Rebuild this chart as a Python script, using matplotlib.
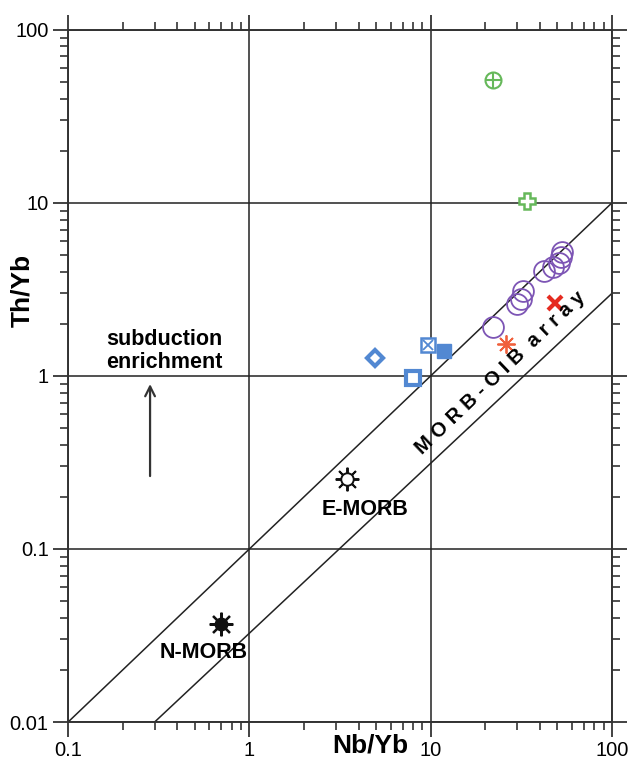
import numpy as np
import matplotlib
matplotlib.use("Agg")
import matplotlib.pyplot as plt
from matplotlib.ticker import LogLocator, NullFormatter, FixedFormatter, FixedLocator

plt.rcParams['font.family'] = ['Liberation Sans', 'DejaVu Sans']

# MORB-OIB array boundaries (Nb/Yb, Th/Yb)
upper_x, upper_y = [0.1, 100], [0.01, 10]
lower_x, lower_y = [0.3, 100], [0.01, 3.0]

# samples
green_cplus_x, green_cplus_y = [22.1], [51.0]
green_plus_x, green_plus_y = [34.0], [10.2]
blue_diamond_x, blue_diamond_y = [4.9], [1.27]
blue_xsq_x, blue_xsq_y = [9.7], [1.5]
blue_fsq_x, blue_fsq_y = [11.9], [1.39]
blue_osq_x, blue_osq_y = [8.0], [0.97]
purple_x = [22.1, 30.0, 31.5, 32.3, 42.2, 47.3, 51.1, 52.4, 53.1]
purple_y = [1.92, 2.61, 2.79, 3.10, 4.04, 4.27, 4.50, 4.87, 5.21]
red_ast_x, red_ast_y = [26.1], [1.53]
red_x_x, red_x_y = [48.5], [2.64]

# reference compositions
emorb_x, emorb_y = [3.46], [0.254]
nmorb_x, nmorb_y = [0.70], [0.037]

# subduction enrichment arrow
arrow_x = 0.283
arrow_y = [0.254, 0.93]

ticks = [0.01, 0.1, 1, 10, 100]
tick_labels = ["0.01", "0.1", "1", "10", "100"]

fig = plt.figure(figsize=(6.31, 7.6), dpi=100)
ax = fig.add_axes([0.108, 0.05, 0.862, 0.911])
ax.set_xscale('log')
ax.set_yscale('log')
ax.set_xlim(0.1, 100)
ax.set_ylim(0.01, 100)

for s in ax.spines.values():
    s.set_linewidth(1.4)
    s.set_color('#333333')

ax.xaxis.set_major_locator(FixedLocator(ticks[1:]))
ax.xaxis.set_major_formatter(FixedFormatter(tick_labels[1:]))
ax.yaxis.set_major_locator(FixedLocator(ticks))
ax.yaxis.set_major_formatter(FixedFormatter(tick_labels))
ax.xaxis.set_minor_locator(LogLocator(base=10, subs=np.arange(2, 10)))
ax.yaxis.set_minor_locator(LogLocator(base=10, subs=np.arange(2, 10)))
ax.xaxis.set_minor_formatter(NullFormatter())
ax.yaxis.set_minor_formatter(NullFormatter())
ax.tick_params(which='both', direction='out', top=True, right=True,
               labeltop=False, labelright=False, color='#333333')
ax.tick_params(which='major', length=11, width=1.3, labelsize=14.5, pad=3)
ax.tick_params(which='minor', length=6, width=1.2)

ax.grid(True, which='major', color='#222222', lw=1.1)

ax.plot(upper_x, upper_y, color='#222222', lw=1.1)
ax.plot(lower_x, lower_y, color='#222222', lw=1.1)

green = '#66b85a'
blue = '#5288d2'
purple = '#7d55b5'

ax.plot(green_cplus_x, green_cplus_y, 'o', ms=11.5, mfc='white', mec=green, mew=1.5)
ax.plot(green_cplus_x, green_cplus_y, '+', ms=11.5, mec=green, mew=1.5)
ax.plot(green_plus_x, green_plus_y, 'P', ms=12, mfc='white', mec=green, mew=1.8)
ax.plot(blue_diamond_x, blue_diamond_y, 'D', ms=8.5, mfc='white', mec=blue, mew=3)
ax.plot(blue_xsq_x, blue_xsq_y, 's', ms=10, mfc='white', mec=blue, mew=1.8)
ax.plot(blue_xsq_x, blue_xsq_y, 'x', ms=7, mec=blue, mew=1.3)
ax.plot(blue_fsq_x, blue_fsq_y, 's', ms=10.5, mfc=blue, mec=blue)
ax.plot(blue_osq_x, blue_osq_y, 's', ms=9.5, mfc='white', mec=blue, mew=3)
ax.plot(purple_x, purple_y, 'o', ms=15, mfc='none', mec=purple, mew=1.3)
ax.plot(red_ast_x, red_ast_y, marker=(8, 2, 0), ls='none', ms=13, mec='#f0603c', mew=1.3)
ax.plot(red_x_x, red_x_y, 'x', ms=10, mec='#e52b20', mew=3)

ax.plot(emorb_x, emorb_y, marker=(8, 2, 0), ls='none', ms=17, mec='#111111', mew=1.4)
ax.plot(emorb_x, emorb_y, 'o', ms=9, mfc='white', mec='#111111', mew=1.4)
ax.plot(nmorb_x, nmorb_y, marker=(8, 2, 0), ls='none', ms=17, mec='#111111', mew=1.6)
ax.plot(nmorb_x, nmorb_y, 'o', ms=9, mfc='#111111', mec='#111111')

ax.annotate('', xy=(arrow_x, arrow_y[1]), xytext=(arrow_x, arrow_y[0]),
            arrowprops=dict(arrowstyle='->,head_length=0.7,head_width=0.35',
                            lw=1.6, color='#333333'))

ax.text(0.34, 1.394, "subduction\nenrichment", ha='center', va='center',
        fontsize=15.5, fontweight='bold', linespacing=1.1)
ax.text(4.35, 0.170, "E-MORB", ha='center', va='center', fontsize=15.5, fontweight='bold')
ax.text(0.556, 0.0251, "N-MORB", ha='center', va='center', fontsize=15.5, fontweight='bold')

p1 = ax.transData.transform((1, 1))
p2 = ax.transData.transform((10, 10))
ang = np.degrees(np.arctan2(p2[1] - p1[1], p2[0] - p1[0]))
ax.text(24.2, 1.04, "M O R B - O I B  a r r a y", rotation=ang, rotation_mode='anchor',
        ha='center', va='center', fontsize=14.5, fontweight='bold')

ax.text(0.555, -0.034, "Nb/Yb", transform=ax.transAxes, ha='center', va='center',
        fontsize=19, fontweight='bold')
ax.text(-0.085, 0.624, "Th/Yb", transform=ax.transAxes, ha='center', va='center',
        rotation=90, fontsize=19, fontweight='bold')

fig.savefig("out.png", dpi=100, facecolor='white')
